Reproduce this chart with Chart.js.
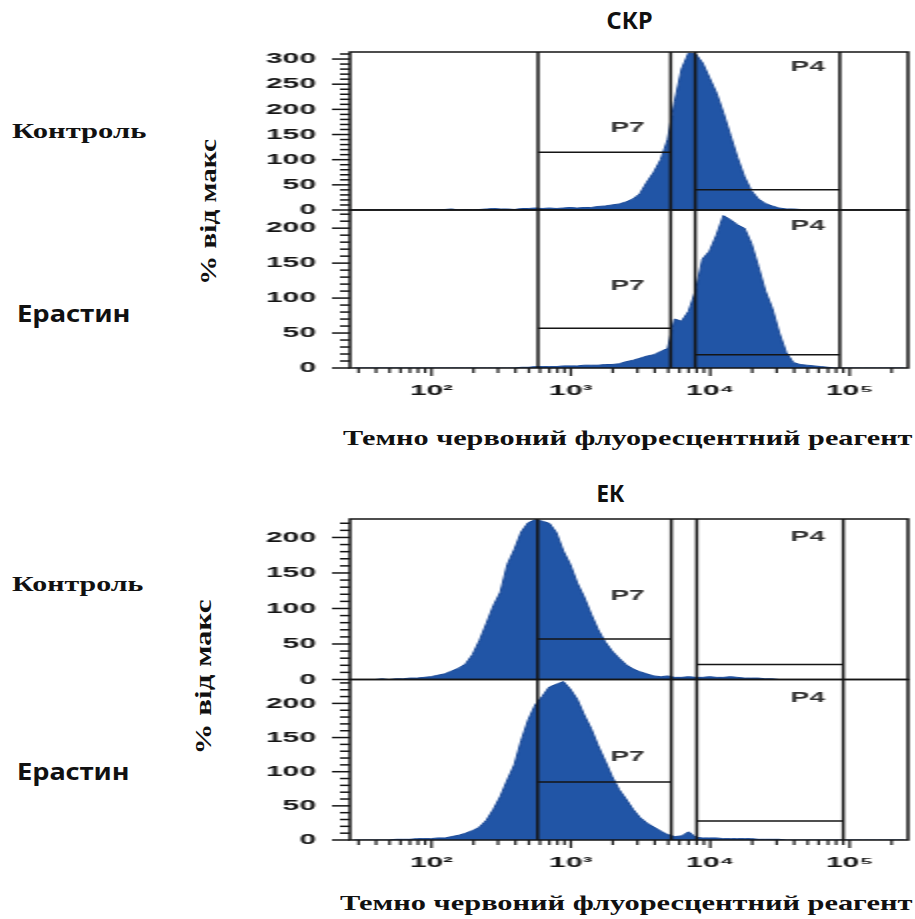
<!DOCTYPE html>
<html>
<head>
<meta charset="utf-8">
<script src="https://cdn.jsdelivr.net/npm/chart.js@4.4.1/dist/chart.umd.min.js"></script>
<style>
  body { margin: 0; background: #fff; }
  #page { position: relative; width: 915px; height: 919px; overflow: hidden; background: #fff; }
  .plot { position: absolute; transform: scaleX(2); transform-origin: 0 0; }
  .lbl { position: absolute; white-space: nowrap; color: #111; line-height: 1; }
  .serif { font-family: "Liberation Serif", "Times New Roman", serif; font-weight: bold; }
  .sans { font-family: "Noto Sans", sans-serif; font-weight: bold; }
</style>
</head>
<body>
<div id="page">
  <div class="lbl sans" data-cx="629" data-cy="20" data-w="46" style="font-size:23px">СКР</div>
  <div class="lbl serif" data-x="12" data-cy="131" data-w="135" style="font-size:22px">Контроль</div>
  <div class="lbl sans" data-x="17" data-cy="313" data-w="114" style="font-size:24px">Ерастин</div>
  <div class="lbl serif" data-cx="208" data-cy="212" data-w="146" data-rot="1" style="font-size:24px">% від макс</div>
  <div class="lbl serif" data-x="343" data-cy="438" data-w="569" style="font-size:22px">Темно червоний флуоресцентний реагент</div>

  <div class="lbl sans" data-cx="610" data-cy="493" data-w="28" style="font-size:23px">ЕК</div>
  <div class="lbl serif" data-x="12" data-cy="584" data-w="132" style="font-size:22px">Контроль</div>
  <div class="lbl sans" data-x="17" data-cy="771" data-w="113" style="font-size:24px">Ерастин</div>
  <div class="lbl serif" data-cx="203" data-cy="677" data-w="155" data-rot="1" style="font-size:24px">% від макс</div>
  <div class="lbl serif" data-x="340" data-cy="903" data-w="572" style="font-size:22px">Темно червоний флуоресцентний реагент</div>

  <canvas id="skr" class="plot" width="333" height="375" style="left:250px;top:40px"></canvas>
  <canvas id="ek" class="plot" width="333" height="375" style="left:250px;top:510px"></canvas>
</div>

<script>
// x axis (fluorescence, log)
const xMin = 26;
const xMax = 262144;
const xTickValues = [100, 1000, 10000, 100000];
const xTickLabels = ['10²', '10³', '10⁴', '10⁵'];

// histogram bins: 80 bins of 0.05 decade, centres from 10^1.445
const binCentres = Array.from({ length: 80 }, (_, k) => Math.pow(10, 1.445 + 0.05 * k));

// counts per bin (% of max)
const skrControl = [
  0, 0, 0, 0, 0, 0, 0, 0, 0, 0,
  0, 0, 0, 1, 2, 0, 1, 0, 1, 2,
  3, 2, 2, 1, 3, 3, 4, 3, 4, 3,
  4, 5, 4, 5, 5, 7, 8, 10, 12, 16,
  22, 32, 55, 75, 100, 140, 215, 280, 312, 310,
  292, 262, 232, 192, 148, 104, 66, 38, 22, 13,
  8, 4, 2, 2, 1, 0, 0, 0, 0, 0,
  0, 0, 0, 0, 0, 0, 0, 0, 0, 0
];
const skrErastin = [
  0, 0, 0, 0, 0, 0, 0, 0, 0, 0,
  0, 0, 0, 0, 0, 0, 0, 0, 0, 0,
  0, 0, 0, 0, 1, 1, 2, 2, 2, 2,
  3, 3, 3, 4, 4, 4, 5, 5, 6, 9,
  11, 14, 17, 19, 24, 28, 70, 67, 81, 110,
  156, 167, 190, 218, 212, 205, 200, 178, 145, 110,
  85, 50, 22, 8, 5, 4, 3, 2, 1, 0,
  0, 0, 0, 0, 0, 0, 0, 0, 0, 0
];
const ekControl = [
  0, 0, 0, 0, 1, 0, 1, 1, 2, 2,
  3, 4, 6, 8, 12, 16, 22, 35, 55, 79,
  104, 123, 162, 183, 208, 221, 225, 223, 220, 207,
  181, 162, 136, 116, 92, 70, 53, 40, 30, 21,
  15, 11, 8, 5, 4, 5, 3, 3, 4, 3,
  3, 4, 3, 3, 4, 3, 2, 2, 2, 1,
  1, 0, 0, 0, 0, 0, 0, 0, 0, 0,
  0, 0, 0, 0, 0, 0, 0, 0, 0, 0
];
const ekErastin = [
  0, 0, 0, 0, 0, 0, 1, 1, 1, 2,
  2, 2, 3, 3, 5, 7, 10, 14, 19, 29,
  45, 64, 88, 110, 146, 176, 198, 210, 224, 228,
  232, 221, 206, 183, 163, 138, 116, 93, 74, 60,
  45, 33, 25, 19, 13, 8, 5, 6, 12, 4,
  3, 3, 3, 2, 2, 2, 2, 2, 1, 1,
  1, 1, 0, 0, 0, 0, 0, 0, 0, 0,
  0, 0, 0, 0, 0, 0, 0, 0, 0, 0
];

// y axis maxima per panel
const skrControlMax = 314;
const skrErastinMax = 226;
const ekControlMax = 226;
const ekErastinMax = 235;

// gates: [from, to] on x, level per panel [P7, P4]
const skrP7 = [581, 5200];
const skrP4 = [7800, 85000];
const ekP7 = [577, 5250];
const ekP4 = [8000, 90000];
const skrControlLevels = [115, 40];
const skrErastinLevels = [57, 19];
const ekControlLevels = [57, 21];
const ekErastinLevels = [85, 28];
// gate name positions [x, y] per panel: P7, P4
const skrControlNames = [[2550, 163], [50000, 284]];
const skrErastinNames = [[2550, 117], [50000, 203]];
const ekControlNames = [[2550, 118], [50000, 200]];
const ekErastinNames = [[2550, 122], [50000, 208]];

const blueFill = '#2155a6';
const blueLine = '#1b4a98';
const ink = '#151515';
const tickFont = { family: '"Liberation Sans", Arial, sans-serif', size: 15, weight: 'bold' };

const xTickPositions = [];
for (let e = 1; e <= 5; e++) {
  for (let m = 1; m <= 9; m++) {
    const v = m * Math.pow(10, e);
    if (v >= xMin && v <= xMax) xTickPositions.push(v);
  }
}

function yScale(max) {
  return {
    type: 'linear', position: 'left', stack: 'panels', stackWeight: 1,
    min: 0, max: max,
    grid: { display: false, drawTicks: false }, border: { display: false },
    afterBuildTicks: s => {
      const t = [];
      for (let v = 0; v <= max; v += 10) t.push({ value: v });
      s.ticks = t;
    },
    afterFit: s => { s.width = 50; s.paddingTop = 0; s.paddingBottom = 0; },
    ticks: {
      autoSkip: false, padding: 17, font: tickFont, color: ink,
      callback: v => (v % 50 === 0 ? String(v) : '')
    }
  };
}

function facsPlugin(panels) {
  return {
    id: 'facs',
    afterDraw(chart) {
      const { ctx, chartArea: a, scales } = chart;
      const xs = scales.x;
      const line = (x0, y0, x1, y1) => { ctx.beginPath(); ctx.moveTo(x0, y0); ctx.lineTo(x1, y1); ctx.stroke(); };
      ctx.save();
      ctx.strokeStyle = ink;
      ctx.fillStyle = '#333';
      ctx.font = 'bold 14px "Liberation Sans", Arial, sans-serif';
      ctx.textAlign = 'center';
      ctx.textBaseline = 'middle';
      panels.forEach(p => {
        const ys = scales[p.id];
        ctx.lineWidth = 1.5;
        ctx.strokeRect(a.left, ys.top, a.right - a.left, ys.bottom - ys.top);
        ys.ticks.forEach(t => {
          const y = ys.getPixelForValue(t.value);
          const len = t.value % 50 === 0 ? 9 : 5;
          line(a.left - len, y, a.left, y);
        });
        p.gates.forEach((g, i) => {
          const x0 = xs.getPixelForValue(g[0]);
          const x1 = xs.getPixelForValue(g[1]);
          const yl = ys.getPixelForValue(p.levels[i]);
          ctx.lineWidth = 1.5;
          line(x0, ys.top, x0, ys.bottom);
          line(x1, ys.top, x1, ys.bottom);
          line(x0, yl, x1, yl);
          const n = p.names[i];
          ctx.fillText(i === 0 ? 'P7' : 'P4', xs.getPixelForValue(n[0]), ys.getPixelForValue(n[1]));
        });
      });
      ctx.lineWidth = 1.2;
      xs.ticks.forEach(t => {
        const x = xs.getPixelForValue(t.value);
        const len = xTickValues.includes(t.value) ? 8 : 5;
        line(x, a.bottom, x, a.bottom + len);
      });
      ctx.restore();
    }
  };
}

function histogram(counts, yId) {
  return {
    data: counts.map((c, k) => ({ x: binCentres[k], y: c })),
    yAxisID: yId,
    fill: 'origin',
    pointRadius: 0,
    borderWidth: 1,
    borderColor: blueLine,
    backgroundColor: blueFill
  };
}

function makeChart(id, top, bottom, padTop, xHeight) {
  // bottom panel scale first: stacked left axes are placed last-defined on top
  new Chart(document.getElementById(id), {
    type: 'line',
    data: {
      datasets: [histogram(top.counts, 'yTop'), histogram(bottom.counts, 'yBot')]
    },
    options: {
      responsive: false,
      animation: false,
      events: [],
      layout: { padding: { top: padTop, right: 4, left: 0, bottom: 0 } },
      plugins: { legend: { display: false }, tooltip: { enabled: false } },
      scales: {
        x: {
          type: 'logarithmic', position: 'bottom', min: xMin, max: xMax,
          grid: { display: false, drawTicks: false }, border: { display: false },
          afterBuildTicks: s => { s.ticks = xTickPositions.map(v => ({ value: v })); },
          afterFit: s => { s.height = xHeight; s.paddingLeft = 0; s.paddingRight = 0; },
          ticks: {
            autoSkip: false, maxRotation: 0, padding: 14, font: tickFont, color: ink,
            callback: v => xTickLabels[xTickValues.indexOf(v)] || ''
          }
        },
        yBot: yScale(bottom.max),
        yTop: yScale(top.max)
      }
    },
    plugins: [facsPlugin([
      { id: 'yTop', gates: top.gates, levels: top.levels, names: top.names },
      { id: 'yBot', gates: bottom.gates, levels: bottom.levels, names: bottom.names }
    ])]
  });
}

makeChart('skr',
  { counts: skrControl, max: skrControlMax, gates: [skrP7, skrP4], levels: skrControlLevels, names: skrControlNames },
  { counts: skrErastin, max: skrErastinMax, gates: [skrP7, skrP4], levels: skrErastinLevels, names: skrErastinNames },
  12, 47);
makeChart('ek',
  { counts: ekControl, max: ekControlMax, gates: [ekP7, ekP4], levels: ekControlLevels, names: ekControlNames },
  { counts: ekErastin, max: ekErastinMax, gates: [ekP7, ekP4], levels: ekErastinLevels, names: ekErastinNames },
  9, 45);

// place the side texts and stretch them to the widths in the figure
document.querySelectorAll('.lbl').forEach(el => {
  const w = el.offsetWidth, h = el.offsetHeight;
  const s = (+el.dataset.w) / w;
  const cy = +el.dataset.cy;
  el.style.top = (cy - h / 2) + 'px';
  if (el.dataset.rot) {
    el.style.left = (+el.dataset.cx - w / 2) + 'px';
    el.style.transformOrigin = '50% 50%';
    el.style.transform = 'rotate(-90deg) scaleX(' + s + ')';
  } else if (el.dataset.cx) {
    el.style.left = (+el.dataset.cx - w / 2) + 'px';
    el.style.transformOrigin = '50% 50%';
    el.style.transform = 'scaleX(' + s + ')';
  } else {
    el.style.left = el.dataset.x + 'px';
    el.style.transformOrigin = '0 50%';
    el.style.transform = 'scaleX(' + s + ')';
  }
});
</script>
</body>
</html>
